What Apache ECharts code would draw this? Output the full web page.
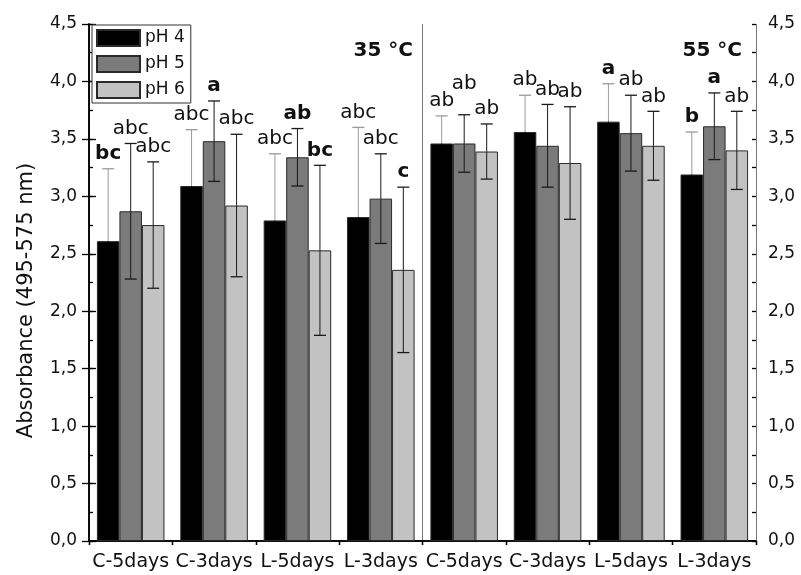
<!DOCTYPE html>
<html>
<head>
<meta charset="utf-8">
<script src="https://cdn.jsdelivr.net/npm/echarts@6/dist/echarts.min.js"></script>
</head>
<body style="margin:0;background:#fff">
<div id="main" style="width:801px;height:575px;"></div>
<script type="text/javascript">
// data
var categories = ['C-5days', 'C-3days', 'L-5days', 'L-3days', 'C-5days', 'C-3days', 'L-5days', 'L-3days'];
var seriesNames = ['pH 4', 'pH 5', 'pH 6'];

var ph4 = [2.61, 3.09, 2.79, 2.82, 3.46, 3.56, 3.65, 3.19];
var ph5 = [2.87, 3.48, 3.34, 2.98, 3.46, 3.44, 3.55, 3.61];
var ph6 = [2.75, 2.92, 2.53, 2.36, 3.39, 3.29, 3.44, 3.40];

var ph4Err = [0.63, 0.49, 0.58, 0.78, 0.24, 0.32, 0.33, 0.37];
var ph5Err = [0.59, 0.35, 0.25, 0.39, 0.25, 0.36, 0.33, 0.29];
var ph6Err = [0.55, 0.62, 0.74, 0.72, 0.24, 0.49, 0.30, 0.34];

var ph4Letters = ['bc', 'abc', 'abc', 'abc', 'ab', 'ab', 'a', 'b'];
var ph5Letters = ['abc', 'a', 'ab', 'abc', 'ab', 'ab', 'ab', 'a'];
var ph6Letters = ['abc', 'abc', 'bc', 'c', 'ab', 'ab', 'ab', 'ab'];

var temperatures = ['35 °C', '55 °C'];

// styling
var font = 'DejaVu Sans';
var colors = ['#000000', '#7b7b7b', '#c2c2c2'];
var barFrac = 0.27;
var boldLetters = ['0-0', '1-1', '1-2', '2-2', '2-3', '0-6', '0-7', '1-7'];
var raised = { '1-4': 16 };

var means = [ph4, ph5, ph6];
var errs = [ph4Err, ph5Err, ph6Err];
var letters = [ph4Letters, ph5Letters, ph6Letters];

function errorItem(k) {
    return function (params, api) {
        var i = api.value(0), m = api.value(1), e = api.value(2);
        var band = api.size([1, 0])[0];
        var dx = (k - 1) * band * barFrac;
        var top = api.coord([i, m + e]);
        var mid = api.coord([i, m]);
        var bot = api.coord([i, m - e]);
        var x = top[0] + dx;
        var cap = 6;
        var upCol = k === 0 ? '#9a9a9a' : '#1a1a1a';
        var lowCol = k === 0 ? '#000' : '#1a1a1a';
        var key = k + '-' + params.dataIndex;
        var lift = 15 + (raised[key] || 0);
        return {
            type: 'group',
            children: [
                { type: 'line', shape: { x1: x, y1: top[1], x2: x, y2: mid[1] }, style: { stroke: upCol, lineWidth: 1 } },
                { type: 'line', shape: { x1: x, y1: mid[1], x2: x, y2: bot[1] }, style: { stroke: lowCol, lineWidth: 1 } },
                { type: 'line', shape: { x1: x - cap, y1: top[1], x2: x + cap, y2: top[1] }, style: { stroke: upCol, lineWidth: 1.3 } },
                { type: 'line', shape: { x1: x - cap, y1: bot[1], x2: x + cap, y2: bot[1] }, style: { stroke: lowCol, lineWidth: 1.3 } },
                {
                    type: 'text', x: x, y: top[1] - lift,
                    style: {
                        text: letters[k][params.dataIndex],
                        fill: '#111',
                        font: (boldLetters.indexOf(key) >= 0 ? 'bold ' : '') + '20px "' + font + '"',
                        textAlign: 'center',
                        textVerticalAlign: 'middle'
                    }
                }
            ]
        };
    };
}

var series = [];
for (var k = 0; k < 3; k++) {
    series.push({
        name: seriesNames[k],
        type: 'bar',
        barWidth: (barFrac * 100) + '%',
        barGap: '0%',
        itemStyle: { color: colors[k], borderColor: '#2a2a2a', borderWidth: 1 },
        data: means[k]
    });
}
for (var k = 0; k < 3; k++) {
    series.push({
        name: 'err' + k,
        type: 'custom',
        renderItem: errorItem(k),
        encode: { x: 0, y: 1 },
        z: 5,
        data: means[k].map(function (v, i) { return [i, v, errs[k][i]]; })
    });
}

var yFmt = function (v) { return v.toFixed(1).replace('.', ','); };
function yMajor(pos) {
    return {
        type: 'value', min: 0, max: 4.5, interval: 0.5, position: pos,
        axisLine: { show: true, lineStyle: { color: '#000', width: 1.5 } },
        axisTick: { show: true, inside: true, length: 7, lineStyle: { color: '#000', width: 1.3 } },
        axisLabel: { formatter: yFmt, fontSize: 17, fontFamily: font, color: '#111', margin: 12 },
        splitLine: { show: false }
    };
}
function yMinor(pos) {
    return {
        type: 'value', min: 0, max: 4.5, interval: 0.25, position: pos,
        axisLine: { show: false },
        axisTick: { show: true, inside: true, length: 4, lineStyle: { color: '#000', width: 1.3 } },
        axisLabel: { show: false },
        splitLine: { show: false }
    };
}
function xMinor(pos, inside) {
    return {
        type: 'value', min: 0, max: 8, interval: 1, position: pos,
        axisLine: { show: false },
        axisTick: { show: true, inside: inside, length: 4, lineStyle: { color: '#000', width: 1.3 } },
        axisLabel: { show: false }, splitLine: { show: false }
    };
}

var left = yMajor('left');
left.name = 'Absorbance (495-575 nm)';
left.nameLocation = 'middle';
left.nameGap = 52;
left.nameTextStyle = { fontSize: 21, fontFamily: font, color: '#111', padding: [0, 36, 0, 0] };

var myChart = echarts.init(document.getElementById('main'));
var option = {
    animation: false,
    textStyle: { fontFamily: font },
    title: [
        { text: temperatures[0], right: 388, top: 41, padding: 0, textStyle: { fontSize: 20, fontWeight: 'bold', fontFamily: font, color: '#111' } },
        { text: temperatures[1], right: 59, top: 41, padding: 0, textStyle: { fontSize: 20, fontWeight: 'bold', fontFamily: font, color: '#111' } }
    ],
    legend: {
        data: seriesNames,
        orient: 'vertical',
        left: 92, top: 25,
        itemWidth: 43, itemHeight: 16, itemGap: 8,
        padding: [4, 6, 4, 4],
        borderColor: '#333', borderWidth: 1,
        backgroundColor: '#fff',
        icon: 'rect',
        textStyle: { fontSize: 17, fontFamily: font, color: '#111' }
    },
    grid: { left: 89, right: 45, top: 24, bottom: 34 },
    xAxis: [
        {
            type: 'category', data: categories, position: 'bottom',
            axisLine: { lineStyle: { color: '#000', width: 1.5 } },
            axisTick: { alignWithLabel: true, length: 7, lineStyle: { color: '#000', width: 1.3 } },
            axisLabel: { interval: 0, fontSize: 19, fontFamily: font, color: '#111', margin: 12 }
        },
        {
            type: 'category', data: categories, position: 'top',
            axisLine: { lineStyle: { color: '#000', width: 1.5 } },
            axisTick: { alignWithLabel: true, inside: true, length: 7, lineStyle: { color: '#000', width: 1.3 } },
            axisLabel: { show: false }
        },
        xMinor('bottom', false),
        xMinor('top', true),
        {
            // divider between the two temperatures
            type: 'value', min: 0, max: 8, interval: 4, position: 'bottom',
            axisLine: { show: false }, axisTick: { show: false }, axisLabel: { show: false },
            splitLine: { show: true, lineStyle: { color: '#777', width: 1 } }
        }
    ],
    yAxis: [left, yMajor('right'), yMinor('left'), yMinor('right')],
    series: series
};
myChart.setOption(option);
</script>
</body>
</html>
